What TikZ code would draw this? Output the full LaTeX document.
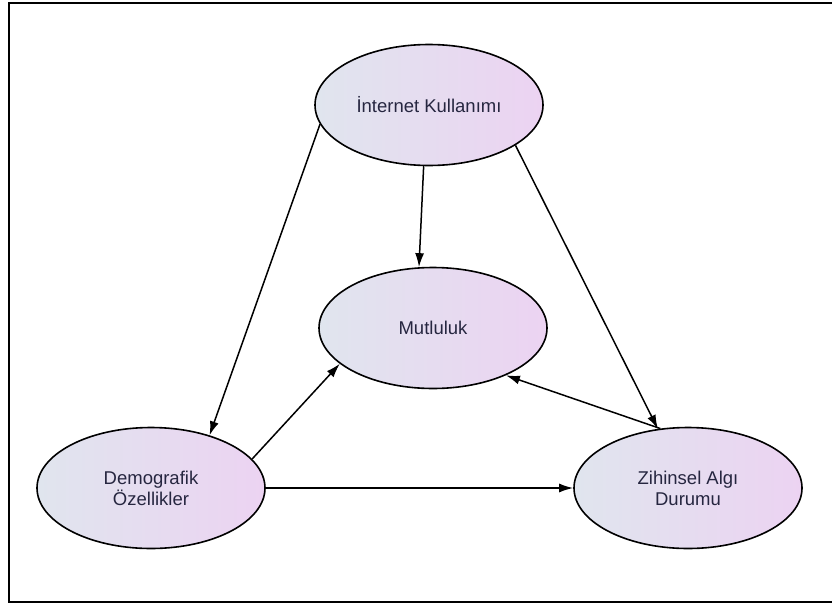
\documentclass[tikz,border=0pt]{standalone}
\usepackage{fontspec}
\setmainfont{Liberation Sans}
\usetikzlibrary{arrows.meta,shapes.geometric}
\definecolor{elleft}{HTML}{E0E5EE}
\definecolor{elright}{HTML}{ECD3F2}
\definecolor{eltext}{HTML}{262640}

\begin{document}
\begin{tikzpicture}[x=1pt,y=-1pt,
    el/.style={ellipse,draw=black,line width=1.6pt,left color=elleft,right color=elright,
      minimum width=228pt,minimum height=121pt,align=center,text=eltext,
      font=\fontsize{18.5}{21}\selectfont},
    ar/.style={line width=1.5pt,-{Latex[length=14pt,width=9pt]}}]
    \useasboundingbox (0,0) rectangle (832,605);
    \draw[line width=2pt] (9,3) rectangle (840,602);
    % nodes: internet, mutluluk, demografik, zihinsel
    \node[el] (int) at (429,105) {İnternet Kullanımı};
    \node[el] (mut) at (433,328) {Mutluluk};
    \node[el] (dem) at (151,488) {Demografik\\Özellikler};
    \node[el] (zih) at (688,488) {Zihinsel Algı\\Durumu};
    \draw[ar] (int.190) -- (dem.42);
    \draw[ar] (int.265) -- (mut.103);
    \draw[ar] (int.335) -- (zih.117);
    \draw[ar] (dem.16) -- (mut.201);
    \draw[ar] (dem.east) -- (zih.west);
    \draw[ar] (zih.115) -- (mut.327);
  \end{tikzpicture}
\end{document}
